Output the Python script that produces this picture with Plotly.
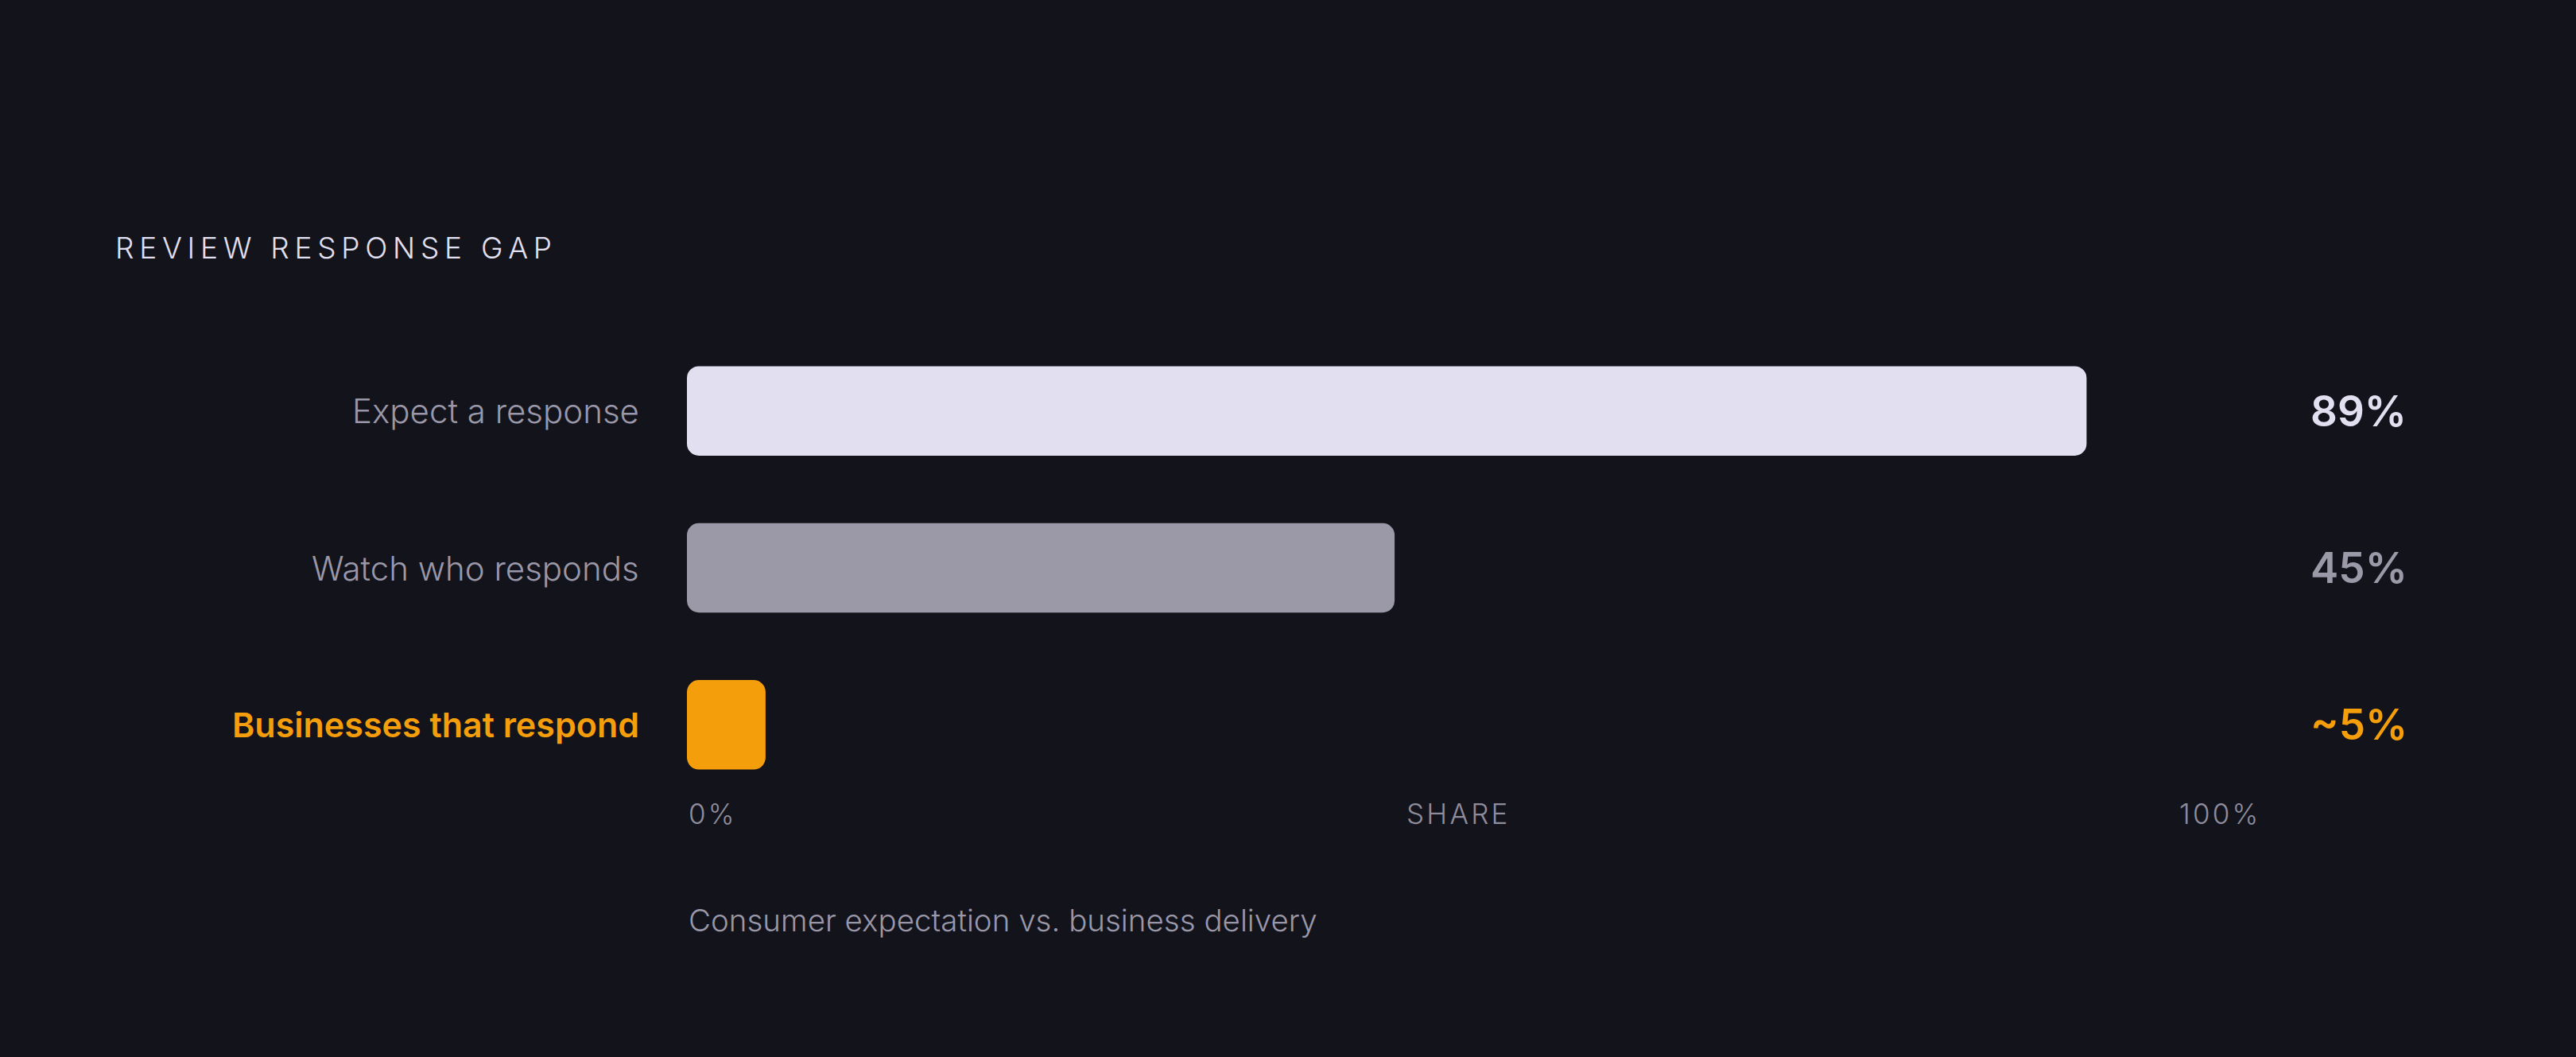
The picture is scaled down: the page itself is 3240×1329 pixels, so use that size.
import plotly.graph_objects as go

# data
categories = ["Expect a response", "Watch who responds", "Businesses that respond"]
shares = [89, 45, 5]
share_labels = ["89%", "45%", "~5%"]
bar_colors = ["#e2e0f0", "#9b99a8", "#f59e0b"]
label_colors = ["#9a98a8", "#9a98a8", "#f59e0b"]
value_colors = ["#e2e0f0", "#9b99a8", "#f59e0b"]
axis_labels = ["0%", "SHARE", "100%"]

title_text = "REVIEW RESPONSE GAP"
subtitle_text = "Consumer expectation vs. business delivery"

BG = "#13131c"
FONT = "Inter"
W, H = 3240, 1329

# plot area in pixels
left, right, top, bottom = 864, 398, 418, 319
plot_w = W - left - right
plot_h = H - top - bottom


def px_to_paper_x(px):
    return (px - left) / plot_w


def px_to_paper_y(py):
    return (H - bottom - py) / plot_h


def spaced(s, sep):
    # fake letter-spacing, plotly fonts have no letterspacing option
    return sep.join(s)


ypos = list(range(len(categories)))

# an explicit base makes plotly round both ends of the bar
fig = go.Figure(go.Bar(
    x=shares, base=[0] * len(shares),
    y=ypos, orientation="h", width=0.57,
    marker=dict(color=bar_colors, cornerradius=15, line=dict(width=0)),
    hoverinfo="skip",
))

annotations = []

# category labels on the left
for i, cat in enumerate(categories):
    bold = i == len(categories) - 1
    annotations.append(dict(
        x=px_to_paper_x(806), xref="paper", xanchor="right",
        y=i, yref="y", yanchor="middle",
        text=cat, showarrow=False,
        font=dict(family=FONT, size=43 if bold else 42, color=label_colors[i],
                  weight=600 if bold else 300),
    ))

# value labels on the right
for i, lab in enumerate(share_labels):
    annotations.append(dict(
        x=px_to_paper_x(2904), xref="paper", xanchor="left",
        y=i, yref="y", yanchor="middle",
        text=lab, showarrow=False,
        font=dict(family=FONT, size=53, color=value_colors[i], weight=600),
    ))

# axis labels under the bars
tick_y = px_to_paper_y(1023)
axis_font = dict(family=FONT, size=35, color="#8f8d9c", weight=300)
annotations.append(dict(x=0, xref="x", xanchor="left", y=tick_y, yref="paper",
                        yanchor="middle", text=spaced(axis_labels[0], "\u200a"),
                        showarrow=False, font=axis_font))
annotations.append(dict(x=px_to_paper_x(1832), xref="paper", xanchor="center", y=tick_y,
                        yref="paper", yanchor="middle", text=spaced(axis_labels[1], "\u200a"),
                        showarrow=False, font=axis_font))
annotations.append(dict(x=100, xref="x", xanchor="right", y=tick_y, yref="paper",
                        yanchor="middle", text=spaced(axis_labels[2], "\u200a"),
                        showarrow=False, font=axis_font))

# caption
annotations.append(dict(
    x=0, xref="paper", xanchor="left",
    y=px_to_paper_y(1157), yref="paper", yanchor="middle",
    text=subtitle_text, showarrow=False,
    font=dict(family=FONT, size=38.5, color="#9a98a8", weight=300),
))

fig.update_layout(
    width=W, height=H,
    paper_bgcolor=BG, plot_bgcolor=BG,
    margin=dict(l=left, r=right, t=top, b=bottom),
    showlegend=False,
    title=dict(
        text=spaced(title_text, "\u2009"),
        x=145 / W, xanchor="left", xref="container",
        y=1 - 312 / H, yanchor="middle", yref="container",
        font=dict(family=FONT, size=37, color="#e2e0f0", weight=300),
    ),
    xaxis=dict(range=[0, 100], visible=False, fixedrange=True),
    yaxis=dict(range=[2.5, -0.5], visible=False, fixedrange=True),
    annotations=annotations,
)

fig.write_html(
    "out.html",
    config={"displayModeBar": False},
    post_script="document.body.style.margin='0';document.body.style.background='%s';" % BG,
)
